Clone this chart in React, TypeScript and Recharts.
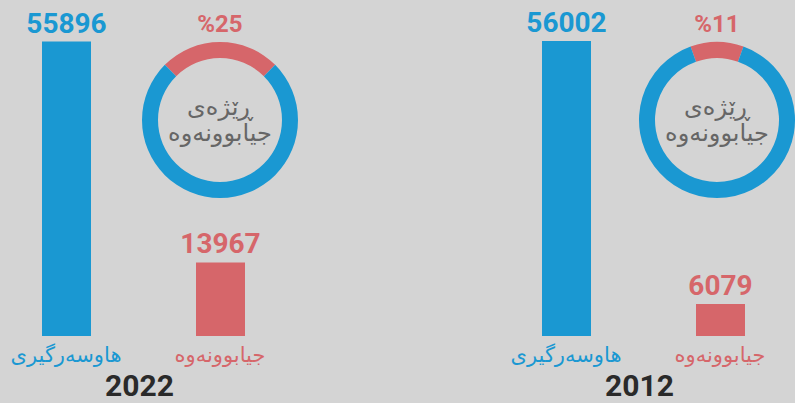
import { BarChart, Bar, XAxis, YAxis, Cell, LabelList, PieChart, Pie } from "recharts";

const years = ["2022", "2012"];
const marriages = [55896, 56002];
const divorces = [13967, 6079];
const divorceRate = [25, 11];
const categoryLabels = ["هاوسەرگیری", "جیابوونەوە"];
const rateTitle = ["ڕێژەی", "جیابوونەوە"];

const BLUE = "#1a98d2";
const RED = "#d6666a";
const colors = [BLUE, RED];
const kuFont = "'DejaVu Sans', 'Noto Sans', sans-serif";
const numFont = "Roboto, 'Noto Sans', sans-serif";

// panel layout (blue bar centre, donut centre)
const panelX = [65.5, 565.5];
const donutX = [220, 717];

function BarTick(props) {
  const { x, y, payload, index } = props;
  return (
    <text x={x} y={y + 26} textAnchor="middle" fill={colors[index]} fontFamily={kuFont} fontSize={21}>
      {payload.value}
    </text>
  );
}

function ValueLabel(props) {
  const { x, y, width, value, index } = props;
  return (
    <text x={x + width / 2} y={y - 9} textAnchor="middle" fill={colors[index]} fontFamily={numFont} fontWeight={700} fontSize={28}>
      {value}
    </text>
  );
}

function Panel({ i }) {
  const data = [
    { label: categoryLabels[0], value: marriages[i] },
    { label: categoryLabels[1], value: divorces[i] },
  ];
  const pieData = [
    { name: "divorce", value: divorceRate[i] },
    { name: "rest", value: 100 - divorceRate[i] },
  ];
  const start = 90 + (divorceRate[i] / 100) * 180;
  return (
    <>
      <div style={{ position: "absolute", left: panelX[i] - 77, top: 0 }}>
        <BarChart width={308} height={403} data={data} margin={{ top: 41, right: 0, bottom: 30, left: 0 }} barSize={49}>
          <XAxis dataKey="label" height={37} axisLine={false} tickLine={false} tickSize={0} tickMargin={0} tick={<BarTick />} interval={0} />
          <YAxis hide domain={[0, Math.max(...marriages)]} />
          <Bar dataKey="value" isAnimationActive={false}>
            {data.map((d, k) => (
              <Cell key={k} fill={colors[k]} />
            ))}
            <LabelList dataKey="value" content={<ValueLabel />} />
          </Bar>
        </BarChart>
      </div>
      <div style={{ position: "absolute", left: donutX[i] - 120, top: 0 }}>
        <PieChart width={240} height={240} margin={{ top: 0, right: 0, bottom: 0, left: 0 }}>
          <Pie
            data={pieData}
            dataKey="value"
            cx={120}
            cy={120}
            innerRadius={62}
            outerRadius={78}
            startAngle={start}
            endAngle={start - 360}
            stroke="none"
            isAnimationActive={false}
            labelLine={false}
            label={(p) =>
              p.index === 0 ? (
                <text x={p.cx} y={p.cy - 88} textAnchor="middle" fill={RED} fontFamily={numFont} fontWeight={700} fontSize={24}>
                  {"%" + divorceRate[i]}
                </text>
              ) : null
            }
          >
            {pieData.map((d, k) => (
              <Cell key={k} fill={colors[1 - k]} />
            ))}
          </Pie>
        </PieChart>
        <div
          style={{
            position: "absolute",
            left: 0,
            width: 240,
            top: 94,
            textAlign: "center",
            fontFamily: kuFont,
            fontSize: 24,
            lineHeight: "26px",
            color: "#666666",
            direction: "rtl",
          }}
        >
          <div>{rateTitle[0]}</div>
          <div>{rateTitle[1]}</div>
        </div>
      </div>
      <div
        style={{
          position: "absolute",
          left: panelX[i] + 74 - 60,
          width: 120,
          top: 368,
          textAlign: "center",
          fontFamily: numFont,
          fontWeight: 700,
          fontSize: 30,
          color: "#2a2a2a",
        }}
      >
        {years[i]}
      </div>
    </>
  );
}

export default function App() {
  return (
    <div style={{ position: "relative", width: 795, height: 403, background: "#d4d4d4", overflow: "hidden" }}>
      <style>{`body{margin:0}`}</style>
      <Panel i={0} />
      <Panel i={1} />
    </div>
  );
}
